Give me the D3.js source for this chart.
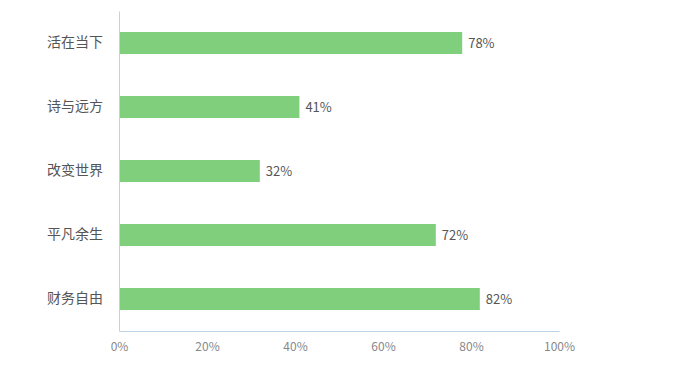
<!DOCTYPE html>
<html><head><meta charset="utf-8">
<script src="https://cdn.jsdelivr.net/npm/d3@7"></script>
<style>body{margin:0;background:#fff}svg{display:block}</style>
</head><body>
<script>
const categories = ["活在当下","诗与远方","改变世界","平凡余生","财务自由"];
const values = [78,41,32,72,82];
const xTicks = [0,20,40,60,80,100];

const W=677,H=381;
const svg=d3.select("body").append("svg").attr("width",W).attr("height",H);
const x=d3.scaleLinear().domain([0,100]).range([119,559]);
const y=d3.scaleBand().domain(categories).range([11,331]).paddingInner(0.656).paddingOuter(0.328);
const font="'Noto Sans CJK SC','Liberation Sans',sans-serif";

svg.selectAll("rect.bar").data(values).enter().append("rect")
 .attr("x",x(0)).attr("y",(d,i)=>y(categories[i]))
 .attr("width",d=>x(d)-x(0)).attr("height",y.bandwidth())
 .attr("fill","#7fcf7d");

svg.selectAll("text.val").data(values).enter().append("text")
 .attr("x",d=>x(d)+6).attr("y",(d,i)=>y(categories[i])+y.bandwidth()/2)
 .attr("dy","0.35em").attr("font-family",font).attr("font-size",13).attr("fill","#555")
 .text(d=>d+"%");

const yAxis=svg.append("g").attr("transform",`translate(${x(0)},0)`)
 .call(d3.axisLeft(y).tickSize(0).tickPadding(16));
yAxis.select(".domain").attr("stroke","#bcd3e8");
yAxis.selectAll("text").attr("font-family",font).attr("font-size",14).attr("fill","#555");

const xAxis=svg.append("g").attr("transform","translate(0,331)")
 .call(d3.axisBottom(x).tickValues(xTicks).tickSize(0).tickPadding(11).tickFormat(d=>d+"%"));
xAxis.select(".domain").attr("stroke","#bcd3e8");
xAxis.selectAll("text").attr("font-family",font).attr("font-size",12).attr("fill","#888");
</script>
</body></html>
